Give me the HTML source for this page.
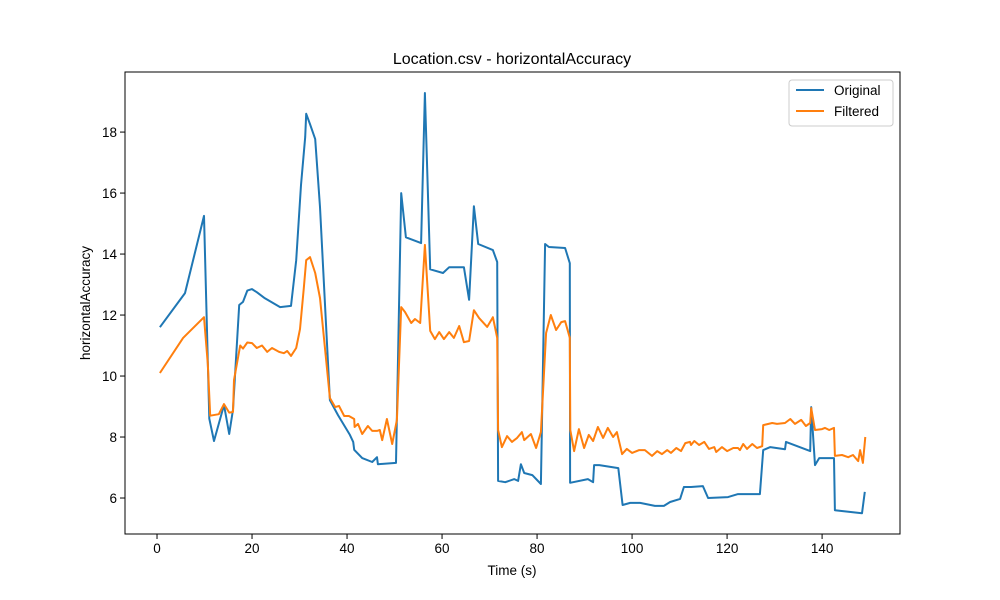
<!DOCTYPE html>
<html><head><meta charset="utf-8"><style>
body{margin:0;background:#fff}
svg{display:block;font-family:"Liberation Sans","DejaVu Sans",sans-serif}
</style></head><body>
<svg id="chart" width="1000" height="600">
<rect width="1000" height="600" fill="#fff"/>
<text x="512" y="64" text-anchor="middle" font-size="16">Location.csv - horizontalAccuracy</text>
<g id="plot"></g>
<rect x="125" y="72" width="775" height="462" fill="none" stroke="#000" stroke-width="1"/>
<g id="xticks"></g><g id="yticks"></g>
<text x="512" y="575" text-anchor="middle" font-size="13.5">Time (s)</text>
<text transform="translate(90,303) rotate(-90)" text-anchor="middle" font-size="13.5">horizontalAccuracy</text>
<g>
<rect x="789" y="80" width="104" height="46" rx="3" fill="#fff" stroke="#ccc" stroke-width="1"/>
<line x1="796" y1="90" x2="824" y2="90" stroke="#1f77b4" stroke-width="2"/>
<text x="834" y="95" font-size="13.5">Original</text>
<line x1="796" y1="111" x2="824" y2="111" stroke="#ff7f0e" stroke-width="2"/>
<text x="834" y="116" font-size="13.5">Filtered</text>
</g>
</svg>
<script>
const xTicks=[0,20,40,60,80,100,120,140];
const yTicks=[6,8,10,12,14,16,18];
const origT=[0.6,5.9,9.9,11,12,14.1,15.2,16,17.3,18.1,19,20,21,22.7,25.9,28.2,29.3,30.3,31.2,31.4,32.2,33.3,34.3,36.4,38.1,40.6,41.3,41.5,43.2,45.3,46.3,46.5,50.3,51.4,52.4,55.6,56.4,57.5,60.2,61.5,64.6,65.7,66.7,67.6,70.7,71.6,71.8,73.3,75.2,76,76.6,77.3,79,80.8,81.7,82.5,85.9,86.9,86.95,90.7,91.8,92,93.1,97.1,98,99.6,101.7,104.8,106.7,108,110.1,110.9,112.4,114.9,116,120.2,122.3,126.9,127.6,129.1,132.2,132.4,137.5,137.7,138.5,139.4,142.5,142.7,148.4,149];
const origV=[11.6,12.72,15.25,8.6,7.87,9.05,8.1,8.9,12.33,12.43,12.8,12.85,12.75,12.55,12.26,12.3,13.8,16.26,17.84,18.6,18.26,17.77,15.54,9.21,8.72,8.07,7.84,7.58,7.31,7.18,7.34,7.11,7.15,16.0,14.55,14.36,19.28,13.5,13.38,13.57,13.57,12.5,15.57,14.33,14.13,13.74,6.56,6.52,6.62,6.56,7.11,6.82,6.75,6.46,14.33,14.23,14.2,13.7,6.5,6.62,6.52,7.08,7.08,6.98,5.77,5.84,5.84,5.74,5.74,5.87,5.97,6.36,6.36,6.39,6.0,6.03,6.13,6.13,7.57,7.67,7.6,7.84,7.54,8.98,7.08,7.31,7.31,5.6,5.5,6.2];
const filtT=[0.6,5.5,9.9,10.7,11.2,13,14.1,15.2,16,16.2,17.5,18.1,19,20,21,22.1,23.2,24.2,25.7,26.7,27.4,28.2,29.3,30.1,30.9,31.4,32.2,33.3,34.3,36.4,37.5,38.3,39.4,40.4,41.5,41.6,42.3,43.2,44.4,45.3,46.3,46.9,47.4,48.4,49.5,50.5,51.4,52.2,53.5,54.3,55.4,56.4,57.5,58.5,59.4,60.4,61.5,62.5,63.6,64.6,65.7,66.7,67.8,69.5,70.7,71.6,71.8,72.6,73.7,74.7,75.8,76.8,77.3,78.7,79.8,80.8,81.9,82.9,84,85.1,85.9,86.9,87,87.8,88.8,89.9,90.9,91.8,92.8,93.9,94.9,96,96.8,97.9,98.9,100,101.5,102.7,104.2,105.3,106.3,107.4,108.2,109.3,110.3,111.2,112.2,112.4,113.1,114.1,115.2,116.2,117.3,117.7,118.9,120,121.3,122.3,122.7,123.4,124.2,125.3,126.3,127.4,127.6,129.5,130.5,132.2,133.3,134.3,135.6,136.6,137.5,137.7,138.5,140,140.6,141.5,142.5,142.7,144.2,145.5,146.5,147.6,148,148.6,149.1];
const filtV=[10.1,11.25,11.93,10.4,8.7,8.75,9.08,8.8,8.82,9.87,11.0,10.9,11.1,11.08,10.92,11.0,10.79,10.92,10.79,10.75,10.82,10.66,10.92,11.54,12.88,13.8,13.9,13.38,12.56,9.28,8.98,9.02,8.69,8.69,8.59,8.33,8.43,8.1,8.36,8.2,8.2,8.23,7.9,8.59,7.77,8.56,12.26,12.1,11.74,11.87,11.74,14.3,11.48,11.21,11.44,11.21,11.44,11.25,11.64,11.11,11.15,12.16,11.9,11.61,11.93,11.25,8.23,7.67,8.03,7.84,7.97,8.16,7.9,8.1,7.64,8.16,11.41,12.0,11.51,11.77,11.8,11.25,8.23,7.54,8.26,7.64,8.07,7.87,8.33,7.97,8.3,8.0,8.16,7.44,7.61,7.48,7.57,7.57,7.38,7.54,7.44,7.57,7.48,7.64,7.54,7.8,7.84,7.74,7.87,7.74,7.84,7.61,7.67,7.51,7.67,7.54,7.64,7.64,7.57,7.77,7.61,7.77,7.64,7.7,8.39,8.46,8.43,8.46,8.59,8.43,8.56,8.36,8.46,8.95,8.23,8.26,8.3,8.23,8.3,7.38,7.41,7.34,7.41,7.21,7.57,7.15,8.0];
const NS="http://www.w3.org/2000/svg";
const X0=125,X1=900,Y0=534,Y1=72,xmin=-6.74,xmax=156.4,ymin=4.82,ymax=19.97;
function sx(t){return X0+(t-xmin)/(xmax-xmin)*(X1-X0);}
function sy(v){return Y0-(v-ymin)/(ymax-ymin)*(Y0-Y1);}
function mk(tag,attrs,parent){const e=document.createElementNS(NS,tag);for(const k in attrs)e.setAttribute(k,attrs[k]);parent.appendChild(e);return e;}
const plot=document.getElementById('plot');
function line(T,V,color,name){
  const d=T.map((t,i)=>(i?'L':'M')+sx(t).toFixed(1)+','+sy(V[i]).toFixed(1)).join('');
  const p=mk('path',{d:d,fill:'none',stroke:color,'stroke-width':2,'stroke-linejoin':'round'},plot);
  
  
}
line(origT,origV,'#1f77b4','original-line');
line(filtT,filtV,'#ff7f0e','filtered-line');
const xg=document.getElementById('xticks');
xTicks.forEach(t=>{const x=sx(t);
  mk('line',{x1:x,y1:Y0,x2:x,y2:Y0+5,stroke:'#000'},xg);
  const tx=mk('text',{x:x,y:Y0+19,'text-anchor':'middle','font-size':13.5},xg);tx.textContent=t;
  
  
});
const yg=document.getElementById('yticks');
yTicks.forEach(v=>{const y=sy(v);
  mk('line',{x1:X0-5,y1:y,x2:X0,y2:y,stroke:'#000'},yg);
  const tx=mk('text',{x:X0-8,y:y+5,'text-anchor':'end','font-size':13.5},yg);tx.textContent=v;
  
  
});
</script>
</body></html>
